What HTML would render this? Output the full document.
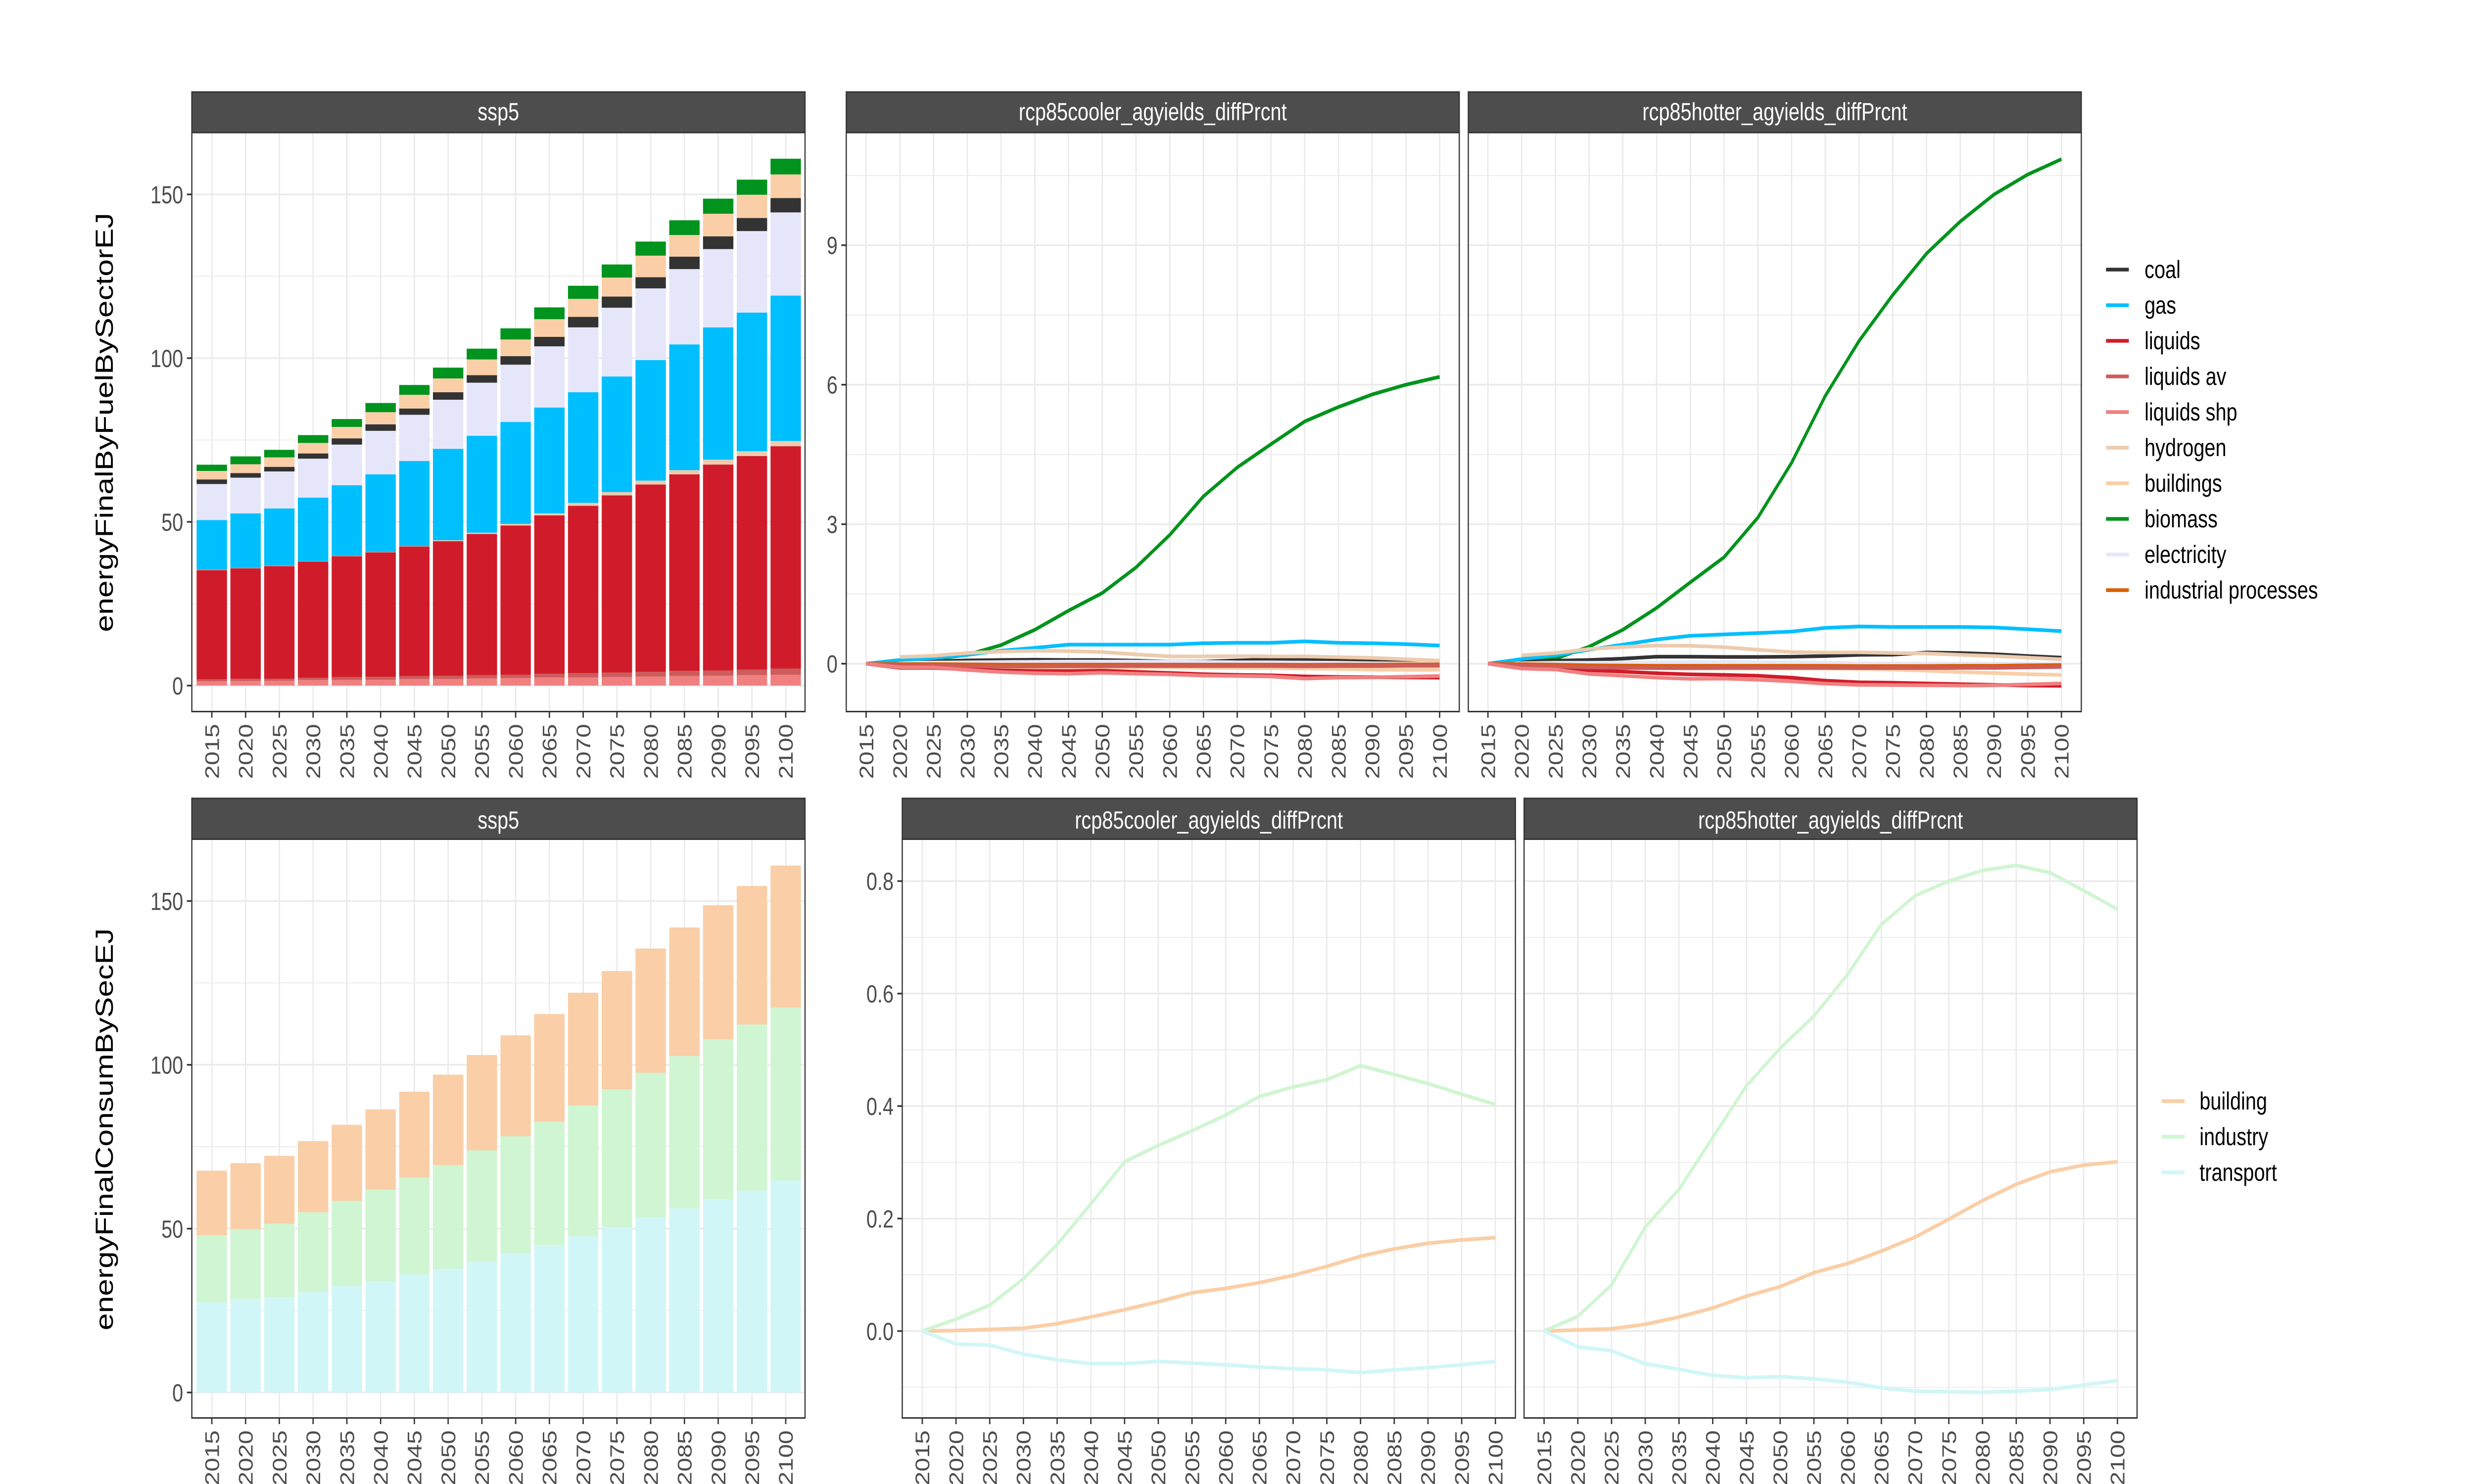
<!DOCTYPE html>
<html>
<head>
<meta charset="utf-8">
<title>Final energy by fuel and sector</title>
<style>
html,body{margin:0;padding:0;background:#fff}
svg{display:block;width:100vw;height:3000px}
text{font-family:"Liberation Sans",sans-serif}
</style>
</head>
<body>
<svg id="figure" xmlns="http://www.w3.org/2000/svg" viewBox="0 0 6300 3000" preserveAspectRatio="none"></svg>
<script>
const years = [2015,2020,2025,2030,2035,2040,2045,2050,2055,2060,2065,2070,2075,2080,2085,2090,2095,2100];

const fuelTicks = [0,50,100,150];
const fuelMinorTicks = [25,75,125];
const diffFuelTicks = [0,3,6,9];
const diffFuelMinorTicks = [1.5,4.5,7.5,10.5];
const diffSecTicks = [0,0.2,0.4,0.6,0.8];
const diffSecMinorTicks = [-0.1,0.1,0.3,0.5,0.7];

const barShp      = [1.36,1.4,1.5,1.7,1.7,1.8,2.0,2.0,2.2,2.3,2.5,2.5,2.6,2.8,2.9,3.0,3.2,3.3];
const barAv       = [0.6,0.7,0.6,0.7,0.9,0.9,0.9,1.0,1.0,1.0,1.1,1.3,1.4,1.4,1.6,1.6,1.7,1.9];
const barLiquids  = [33.3,33.7,34.4,35.5,36.9,38.0,39.6,41.1,43.1,45.6,48.4,51.1,54.1,57.2,60.0,62.9,65.2,67.9];
const barHydrogen = [0.1,0.1,0.1,0.1,0.1,0.1,0.1,0.3,0.4,0.5,0.6,0.9,1.0,1.2,1.3,1.5,1.5,1.6];
const barGas      = [15.2,16.7,17.5,19.4,21.6,23.7,26.0,27.9,29.6,31.1,32.3,33.8,35.3,36.8,38.4,40.4,42.3,44.4];
const barElec     = [11.0,10.9,11.3,11.9,12.4,13.3,14.1,15.0,16.2,17.5,18.7,19.8,21.0,21.9,23.0,23.9,24.9,25.4];
const barCoal     = [1.4,1.4,1.4,1.6,1.9,2.0,1.9,2.3,2.3,2.6,2.9,3.2,3.4,3.4,3.8,3.9,4.0,4.4];
const barBuild    = [2.6,2.7,2.9,3.2,3.5,3.7,4.2,4.2,4.8,5.1,5.4,5.5,5.8,6.6,6.6,6.9,7.1,7.2];
const barBiomass  = [1.9,2.4,2.3,2.4,2.4,2.8,3.0,3.3,3.3,3.4,3.6,4.0,4.0,4.3,4.5,4.6,4.6,4.8];

const secTransport = [27.5,28.6,29.1,30.7,32.5,34.0,36.0,37.7,40.0,42.5,45.0,47.7,50.5,53.4,56.2,58.9,61.6,64.7];
const secIndustry  = [20.5,21.3,22.4,24.3,26.0,27.9,29.6,31.7,33.9,35.7,37.6,39.9,42.0,44.2,46.5,48.9,50.7,52.8];
const secBuilding  = [19.7,20.1,20.7,21.7,23.2,24.5,26.2,27.6,29.1,30.8,32.9,34.4,36.1,37.9,39.2,40.9,42.3,43.3];

const coolBiomass  = [0,0.05,0.1,0.19,0.40,0.73,1.14,1.52,2.07,2.77,3.6,4.22,4.72,5.21,5.52,5.79,6.0,6.17];
const coolBuild    = [0,-0.04,-0.05,-0.06,-0.07,-0.08,-0.08,-0.08,-0.08,-0.08,-0.085,-0.09,-0.095,-0.105,-0.11,-0.125,-0.13,-0.13];
const coolCoal     = [0,0.035,0.05,0.07,0.08,0.085,0.08,0.08,0.065,0.045,0.045,0.07,0.09,0.1,0.085,0.07,0.05,0.03];
const coolElec     = [0,0.02,0.025,0.03,0.035,0.04,0.045,0.045,0.045,0.045,0.04,0.03,0.03,0.025,0.02,0.01,0.005,0.005];
const coolGas      = [0,0.08,0.12,0.19,0.28,0.34,0.41,0.41,0.41,0.41,0.44,0.45,0.45,0.48,0.45,0.44,0.42,0.39];
const coolHydrogen = [null,0.145,0.17,0.23,0.26,0.28,0.27,0.25,0.2,0.156,0.156,0.163,0.156,0.156,0.142,0.124,0.096,0.067];
const coolIndProc  = [0,-0.01,-0.01,-0.015,-0.02,-0.02,-0.02,-0.02,-0.02,-0.02,-0.02,-0.02,-0.02,-0.025,-0.02,-0.02,-0.015,-0.015];
const coolLiquids  = [0,-0.09,-0.09,-0.125,-0.145,-0.155,-0.16,-0.15,-0.175,-0.2,-0.225,-0.24,-0.25,-0.275,-0.285,-0.29,-0.295,-0.3];
const coolAv       = [0,-0.045,-0.045,-0.055,-0.06,-0.06,-0.055,-0.055,-0.05,-0.05,-0.05,-0.05,-0.05,-0.055,-0.05,-0.05,-0.045,-0.045];
const coolShp      = [0,-0.08,-0.08,-0.135,-0.18,-0.205,-0.215,-0.195,-0.215,-0.23,-0.255,-0.265,-0.275,-0.32,-0.3,-0.295,-0.28,-0.265];

const hotBiomass  = [0,0.05,0.11,0.365,0.73,1.2,1.75,2.29,3.14,4.32,5.76,6.94,7.93,8.82,9.51,10.09,10.52,10.85];
const hotBuild    = [0,-0.04,-0.06,-0.075,-0.09,-0.1,-0.105,-0.105,-0.105,-0.105,-0.105,-0.11,-0.125,-0.15,-0.18,-0.2,-0.225,-0.24];
const hotCoal     = [0,0.045,0.065,0.08,0.11,0.15,0.15,0.145,0.145,0.15,0.165,0.19,0.195,0.24,0.23,0.205,0.165,0.13];
const hotElec     = [0,0.01,0.02,0.02,0.025,0.03,0.035,0.035,0.03,0.03,0.02,0.005,0.005,0,0,0,0,0];
const hotGas      = [0,0.1,0.18,0.3,0.41,0.52,0.6,0.63,0.66,0.69,0.77,0.8,0.79,0.79,0.79,0.78,0.74,0.7];
const hotHydrogen = [null,0.18,0.23,0.315,0.36,0.39,0.385,0.355,0.3,0.25,0.24,0.245,0.23,0.22,0.19,0.165,0.13,0.095];
const hotIndProc  = [0,-0.01,-0.02,-0.035,-0.04,-0.045,-0.045,-0.045,-0.045,-0.045,-0.045,-0.05,-0.05,-0.05,-0.045,-0.045,-0.035,-0.03];
const hotLiquids  = [0,-0.095,-0.105,-0.14,-0.17,-0.205,-0.23,-0.24,-0.26,-0.3,-0.365,-0.4,-0.41,-0.425,-0.44,-0.455,-0.47,-0.475];
const hotAv       = [0,-0.04,-0.06,-0.08,-0.09,-0.095,-0.095,-0.09,-0.09,-0.09,-0.09,-0.095,-0.095,-0.095,-0.09,-0.09,-0.08,-0.07];
const hotShp      = [0,-0.105,-0.125,-0.22,-0.26,-0.3,-0.325,-0.32,-0.345,-0.38,-0.43,-0.455,-0.46,-0.465,-0.47,-0.465,-0.445,-0.425];

const coolSecBuilding  = [0,0.001,0.003,0.005,0.013,0.025,0.038,0.052,0.068,0.076,0.086,0.099,0.115,0.133,0.146,0.156,0.162,0.166];
const coolSecIndustry  = [0,0.021,0.046,0.093,0.154,0.226,0.301,0.33,0.356,0.384,0.417,0.434,0.447,0.472,0.456,0.44,0.421,0.403];
const coolSecTransport = [0,-0.023,-0.025,-0.041,-0.051,-0.058,-0.058,-0.054,-0.057,-0.06,-0.064,-0.067,-0.069,-0.074,-0.069,-0.065,-0.06,-0.054];
const hotSecBuilding   = [0,0.002,0.004,0.012,0.025,0.041,0.062,0.079,0.104,0.12,0.142,0.167,0.199,0.232,0.261,0.283,0.295,0.301];
const hotSecIndustry   = [0,0.026,0.082,0.185,0.252,0.344,0.436,0.503,0.56,0.634,0.723,0.774,0.8,0.819,0.828,0.815,0.783,0.75];
const hotSecTransport  = [0,-0.028,-0.035,-0.058,-0.068,-0.079,-0.083,-0.081,-0.085,-0.091,-0.101,-0.107,-0.108,-0.109,-0.107,-0.104,-0.096,-0.088];

const fuelColors = {coal:'#333333',gas:'#00BFFF',liquids:'#D01C2A',av:'#CD5C5C',shp:'#F08080',hydrogen:'#EDCBAE',buildings:'#FACEA6',biomass:'#00931D',electricity:'#E6E6FA',ind:'#D95F02'};
const secColors = {building:'#FACEA6',industry:'#D0F5D2',transport:'#D1F6F7'};

const svg = document.getElementById('figure');
const NS = 'http://www.w3.org/2000/svg';

function make(tag, attrs, text) {
  const el = document.createElementNS(NS, tag);
  for (const k in attrs) el.setAttribute(k, attrs[k]);
  if (text !== undefined) el.textContent = text;
  return el;
}

function drawPanel(p) {
  const g = make('g', {});
  
  
  svg.appendChild(g);
  const x = i => p.x2015 + (p.x2100 - p.x2015) * (years[i] - 2015) / 85;
  const y = v => p.zero - v * p.unit;

  const bg = make('rect', {x:p.left, y:p.top, width:p.right-p.left, height:p.bottom-p.top, fill:'#fff'});
  
  
  g.appendChild(bg);

  p.minor.forEach(v => {
    const l = make('line', {x1:p.left, x2:p.right, y1:y(v), y2:y(v), stroke:'#EBEBEB', 'stroke-width':1.8});
    
    
    g.appendChild(l);
  });
  p.ticks.forEach(v => {
    const l = make('line', {x1:p.left, x2:p.right, y1:y(v), y2:y(v), stroke:'#EBEBEB', 'stroke-width':3.6});
    
    
    g.appendChild(l);
  });
  years.forEach((yr, i) => {
    const l = make('line', {x1:x(i), x2:x(i), y1:p.top, y2:p.bottom, stroke:'#EBEBEB', 'stroke-width':3.6});
    
    
    g.appendChild(l);
  });

  if (p.stack) {
    const w = (p.x2100 - p.x2015) / 17 * 0.9;
    years.forEach((yr, i) => {
      let base = 0;
      p.stack.forEach(s => {
        const top = base + s.values[i];
        const r = make('rect', {x:x(i)-w/2, y:y(top), width:w, height:y(base)-y(top), fill:s.color});
        
        
        g.appendChild(r);
        base = top;
      });
    });
  }
  if (p.lines) {
    p.lines.forEach(s => {
      let d = '';
      s.values.forEach((v, i) => {
        if (v === null) return;
        d += (d ? 'L' : 'M') + x(i).toFixed(1) + ' ' + y(v).toFixed(1);
      });
      const path = make('path', {d:d, fill:'none', stroke:s.color, 'stroke-width':7.4, 'stroke-linejoin':'round', 'stroke-linecap':'butt'});
      
      
      g.appendChild(path);
    });
  }

  const border = make('rect', {x:p.left, y:p.top, width:p.right-p.left, height:p.bottom-p.top, fill:'none', stroke:'#333333', 'stroke-width':3});
  
  
  g.appendChild(border);

  const strip = make('rect', {x:p.left, y:p.stripTop, width:p.right-p.left, height:p.top-p.stripTop, fill:'#4D4D4D', stroke:'#333333', 'stroke-width':3});
  
  
  g.appendChild(strip);
  const stripLabel = make('text', {x:(p.left+p.right)/2, y:p.stripBase, 'text-anchor':'middle', 'font-size':50, fill:'#fff'}, p.title);
  
  
  g.appendChild(stripLabel);

  years.forEach((yr, i) => {
    const t = make('line', {x1:x(i), x2:x(i), y1:p.bottom, y2:p.bottom+12.5, stroke:'#333333', 'stroke-width':3.4});
    
    
    g.appendChild(t);
    const bx = x(i) + 18, by = p.bottom + 25;
    const lab = make('text', {x:bx, y:by, 'text-anchor':'end', 'font-size':50, fill:'#4D4D4D', transform:'rotate(-90 '+bx+' '+by+')'}, String(yr));
    
    
    g.appendChild(lab);
  });

  if (p.showY) {
    p.ticks.forEach(v => {
      const t = make('line', {x1:p.left-12.5, x2:p.left, y1:y(v), y2:y(v), stroke:'#333333', 'stroke-width':3.4});
      
      
      g.appendChild(t);
      const lab = make('text', {x:p.left-22, y:y(v)+18, 'text-anchor':'end', 'font-size':50, fill:'#4D4D4D'}, p.fmt ? v.toFixed(1) : String(v));
      
      
      g.appendChild(lab);
    });
  }
}

const topLines = (bio,bld,coal,el,gas,hyd,ind,liq,av,shp) => [
  {values:bio,color:fuelColors.biomass},
  {values:bld,color:fuelColors.buildings},
  {values:coal,color:fuelColors.coal},
  {values:el,color:fuelColors.electricity},
  {values:gas,color:fuelColors.gas},
  {values:hyd,color:fuelColors.hydrogen},
  {values:ind,color:fuelColors.ind},
  {values:liq,color:fuelColors.liquids},
  {values:av,color:fuelColors.av},
  {values:shp,color:fuelColors.shp}
];
const botLines = (bld,ind,tr) => [
  {values:bld,color:secColors.building},
  {values:ind,color:secColors.industry},
  {values:tr,color:secColors.transport}
];

drawPanel({name:'fuel-stacked-panel',title:'ssp5',left:488.5,right:2050,top:268,bottom:1438.5,stripTop:186,stripBase:243,
  x2015:539.4,x2100:2000.8,zero:1386,unit:6.62,ticks:fuelTicks,minor:fuelMinorTicks,showY:true,
  stack:[{values:barShp,color:fuelColors.shp},{values:barAv,color:fuelColors.av},{values:barLiquids,color:fuelColors.liquids},
         {values:barHydrogen,color:fuelColors.hydrogen},{values:barGas,color:fuelColors.gas},{values:barElec,color:fuelColors.electricity},
         {values:barCoal,color:fuelColors.coal},{values:barBuild,color:fuelColors.buildings},{values:barBiomass,color:fuelColors.biomass}]});

drawPanel({name:'fuel-cooler-panel',title:'rcp85cooler_agyields_diffPrcnt',left:2155,right:3716,top:268,bottom:1438.5,stripTop:186,stripBase:243,
  x2015:2205.6,x2100:3666,zero:1341.7,unit:94,ticks:diffFuelTicks,minor:diffFuelMinorTicks,showY:true,
  lines:topLines(coolBiomass,coolBuild,coolCoal,coolElec,coolGas,coolHydrogen,coolIndProc,coolLiquids,coolAv,coolShp)});

drawPanel({name:'fuel-hotter-panel',title:'rcp85hotter_agyields_diffPrcnt',left:3739,right:5300,top:268,bottom:1438.5,stripTop:186,stripBase:243,
  x2015:3789,x2100:5249.4,zero:1341.7,unit:94,ticks:diffFuelTicks,minor:diffFuelMinorTicks,showY:false,
  lines:topLines(hotBiomass,hotBuild,hotCoal,hotElec,hotGas,hotHydrogen,hotIndProc,hotLiquids,hotAv,hotShp)});

drawPanel({name:'sector-stacked-panel',title:'ssp5',left:488.5,right:2050,top:1696.5,bottom:2866.5,stripTop:1614,stripBase:1675,
  x2015:539.4,x2100:2000.8,zero:2815,unit:6.624,ticks:fuelTicks,minor:fuelMinorTicks,showY:true,
  stack:[{values:secTransport,color:secColors.transport},{values:secIndustry,color:secColors.industry},{values:secBuilding,color:secColors.building}]});

drawPanel({name:'sector-cooler-panel',title:'rcp85cooler_agyields_diffPrcnt',left:2297.6,right:3859,top:1696.5,bottom:2866.5,stripTop:1614,stripBase:1675,
  x2015:2348.6,x2100:3808,zero:2690.8,unit:1137,ticks:diffSecTicks,minor:diffSecMinorTicks,showY:true,fmt:true,
  lines:botLines(coolSecBuilding,coolSecIndustry,coolSecTransport)});

drawPanel({name:'sector-hotter-panel',title:'rcp85hotter_agyields_diffPrcnt',left:3881,right:5442,top:1696.5,bottom:2866.5,stripTop:1614,stripBase:1675,
  x2015:3932,x2100:5392,zero:2690.8,unit:1137,ticks:diffSecTicks,minor:diffSecMinorTicks,showY:false,
  lines:botLines(hotSecBuilding,hotSecIndustry,hotSecTransport)});

function yTitle(txt, cy, name) {
  const bx = 287;
  const t = make('text', {x:bx, y:cy, 'text-anchor':'middle', 'font-size':62.5, fill:'#000', transform:'rotate(-90 '+bx+' '+cy+')'}, txt);
  
  
  svg.appendChild(t);
}
yTitle('energyFinalByFuelBySectorEJ', 854, 'y-axis-title-fuel');
yTitle('energyFinalConsumBySecEJ', 2283, 'y-axis-title-sector');

const fuelLegendLabels = ['coal','gas','liquids','liquids av','liquids shp','hydrogen','buildings','biomass','electricity','industrial processes'];
const fuelLegendKeys = ['coal','gas','liquids','av','shp','hydrogen','buildings','biomass','electricity','ind'];
const secLegendLabels = ['building','industry','transport'];
const secLegendKeys = ['building','industry','transport'];

function legend(labels, keys, colors, x1, x2, tx, y0, name) {
  const g = make('g', {});
  
  
  svg.appendChild(g);
  labels.forEach((lab, i) => {
    const cy = y0 + i * 72;
    const l = make('line', {x1:x1, x2:x2, y1:cy, y2:cy, stroke:colors[keys[i]], 'stroke-width':7.4});
    
    
    g.appendChild(l);
    const t = make('text', {x:tx, y:cy+17, 'font-size':50, fill:'#000'}, lab);
    
    
    g.appendChild(t);
  });
}
legend(fuelLegendLabels, fuelLegendKeys, fuelColors, 5363, 5421, 5461, 545, 'fuel-legend');
legend(secLegendLabels, secLegendKeys, secColors, 5505, 5563, 5601, 2226, 'sector-legend');
</script>
</body>
</html>
